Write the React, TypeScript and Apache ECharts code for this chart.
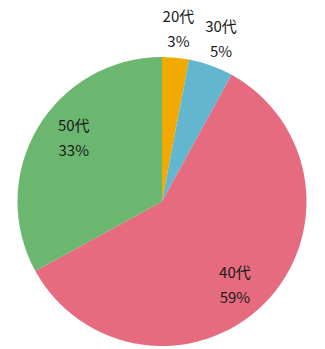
import React, { useEffect, useRef } from "react";
import * as echarts from "echarts";

const categories = ["20代", "30代", "40代", "50代"];
const values = [3, 5, 59, 33];
const colors = ["#f2aa00", "#62b6cf", "#e66b7e", "#6cb76f"];
const outsideLabelCats = ["20代", "30代"];
// small style nudges for the inner labels
const labelNudge: Record<string, [number, number]> = {
  "40代": [-7, 3],
  "50代": [9, -7],
};

export default function App() {
  const ref = useRef<HTMLDivElement>(null);
  useEffect(() => {
    document.body.style.margin = "0";
    const chart = echarts.init(ref.current!, undefined, { renderer: "svg" });
    const center = [162, 201.5];
    const labelStyle = {
      formatter: "{b}\n{d}%",
      fontSize: 15,
      lineHeight: 25,
      color: "#1a1a1a",
      fontFamily: "'Noto Sans CJK JP', 'Noto Sans', sans-serif",
    };
    const baseData = categories.map((c, i) => ({ name: c, value: values[i] }));
    const labelData = (outside: boolean) =>
      categories.map((c, i) => ({
        name: c,
        value: values[i],
        label: {
          show: outsideLabelCats.includes(c) === outside,
          offset: labelNudge[c] || [0, 0],
        },
      }));
    chart.setOption({
      animation: false,
      color: colors,
      series: [
        {
          type: "pie",
          center,
          radius: [0, 144.5],
          startAngle: 90,
          clockwise: true,
          silent: true,
          label: { show: false },
          labelLine: { show: false },
          itemStyle: { borderWidth: 0 },
          data: baseData,
        },
        {
          type: "pie",
          center,
          radius: [76, 144],
          startAngle: 90,
          clockwise: true,
          silent: true,
          itemStyle: { color: "transparent", borderWidth: 0 },
          label: { ...labelStyle, position: "inside" },
          labelLine: { show: false },
          data: labelData(false),
        },
        {
          type: "pie",
          center,
          radius: [144.5, 198],
          startAngle: 90,
          clockwise: true,
          silent: true,
          itemStyle: { color: "transparent", borderWidth: 0 },
          label: { ...labelStyle, position: "inside" },
          labelLine: { show: false },
          data: labelData(true),
        },
      ],
    });
    return () => chart.dispose();
  }, []);
  return <div ref={ref} style={{ width: 325, height: 349 }} />;
}
